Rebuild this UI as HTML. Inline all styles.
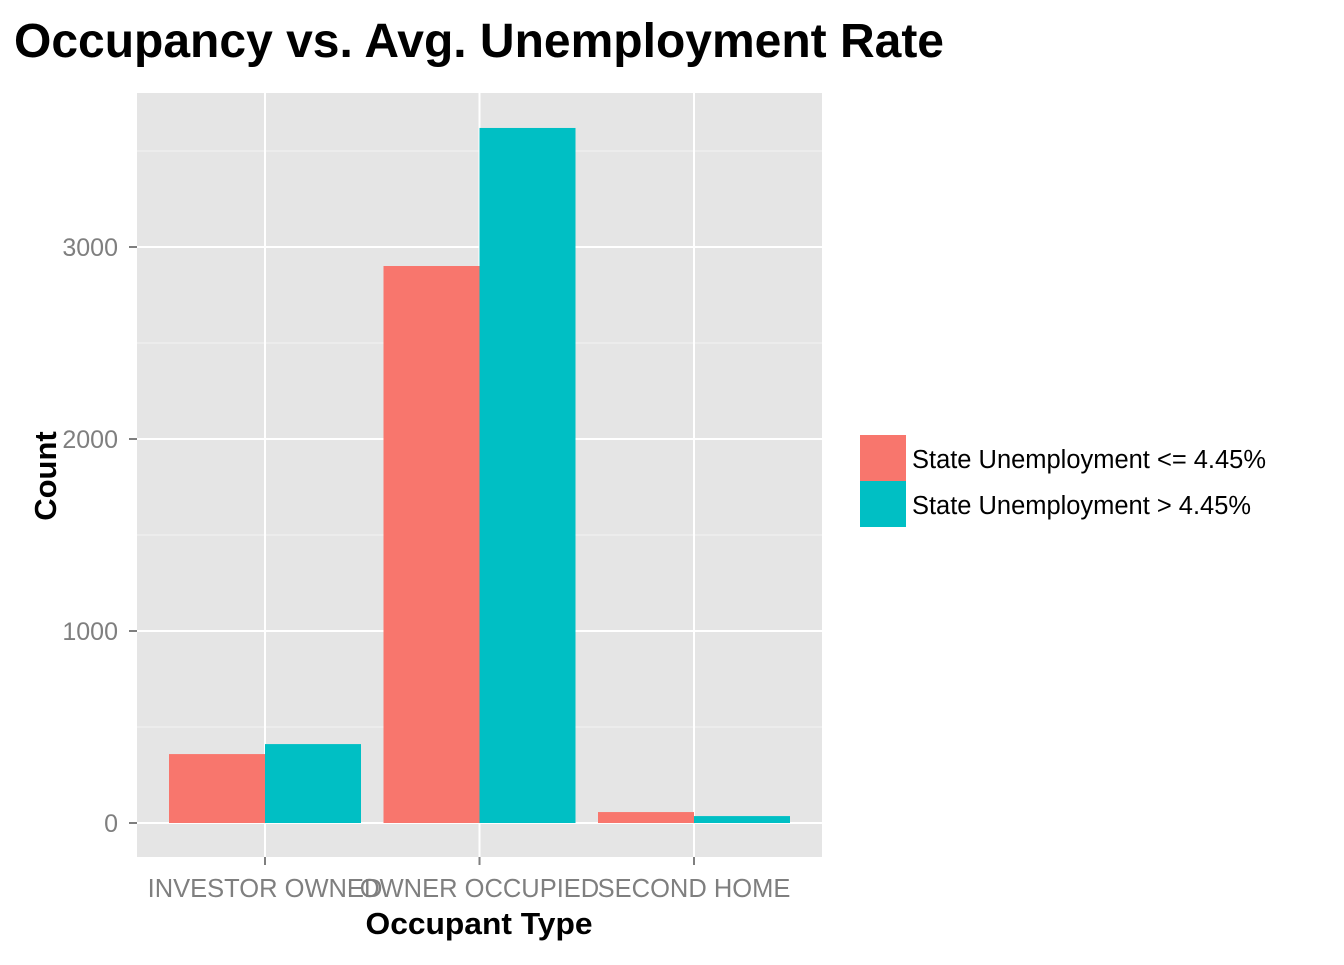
<!DOCTYPE html>
<html><head><meta charset="utf-8"><style>
body{margin:0;background:#fff;width:1344px;height:960px;overflow:hidden;font-family:"Liberation Sans",Arial,sans-serif;}
</style></head><body>
<svg width="1344" height="960">
<text x="14" y="57" font-size="48" font-weight="bold" fill="#000" textLength="930" lengthAdjust="spacingAndGlyphs">Occupancy vs. Avg. Unemployment Rate</text>
<g id="plot"></g>
<text x="479" y="934" font-size="31" font-weight="bold" text-anchor="middle" textLength="227" lengthAdjust="spacingAndGlyphs">Occupant Type</text>
<text transform="translate(56,476) rotate(-90)" font-size="31" font-weight="bold" text-anchor="middle">Count</text>
<g>
<rect x="860" y="435" width="46" height="46" fill="#F8766D"/>
<rect x="860" y="481" width="46" height="46" fill="#00BFC4"/>
<text x="912" y="468" font-size="25.5" textLength="354" lengthAdjust="spacingAndGlyphs">State Unemployment &lt;= 4.45%</text>
<text x="912" y="514" font-size="25.5" textLength="339" lengthAdjust="spacingAndGlyphs">State Unemployment &gt; 4.45%</text>
</g>
</svg>
<script>
const categories=["INVESTOR OWNED","OWNER OCCUPIED","SECOND HOME"];
const lowValues=[359,2901,57];
const highValues=[411,3620,36];
const yTicks=[0,1000,2000,3000];
const colors=["#F8766D","#00BFC4"];
const ns="http://www.w3.org/2000/svg";
const g=document.getElementById('plot');
const L=137,R=822,T=93,B=857;
const y=v=>823-v*0.192;
const step=214.5;
const xc=i=>265+step*i;
const bw=96;
function mk(t,a){const e=document.createElementNS(ns,t);for(const k in a)e.setAttribute(k,a[k]);g.appendChild(e);return e;}
let bg=mk('rect',{x:L,y:T,width:R-L,height:B-T,fill:'#E5E5E5'});


for(let i=0;i<yTicks.length-1;i++){const m=(yTicks[i]+yTicks[i+1])/2;mk('line',{x1:L,x2:R,y1:y(m),y2:y(m),stroke:'#F2F2F2','stroke-width':1});}
{const m=yTicks[yTicks.length-1]+500;if(y(m)>T)mk('line',{x1:L,x2:R,y1:y(m),y2:y(m),stroke:'#F2F2F2','stroke-width':1});}
yTicks.forEach(v=>{
const l=mk('line',{x1:L,x2:R,y1:y(v),y2:y(v),stroke:'#fff','stroke-width':2});


mk('line',{x1:L-8,x2:L,y1:y(v),y2:y(v),stroke:'#7F7F7F','stroke-width':2});
const t=mk('text',{x:L-19,y:y(v)+9,'font-size':25,fill:'#7F7F7F','text-anchor':'end'});t.textContent=v;


});
categories.forEach((c,i)=>{
mk('line',{x1:xc(i),x2:xc(i),y1:T,y2:B,stroke:'#fff','stroke-width':2});
mk('line',{x1:xc(i),x2:xc(i),y1:B,y2:B+8,stroke:'#7F7F7F','stroke-width':2});
const t=mk('text',{x:xc(i),y:897,'font-size':25.5,fill:'#7F7F7F','text-anchor':'middle'});t.textContent=c;


});
categories.forEach((c,i)=>{
[lowValues,highValues].forEach((vals,s)=>{
const x0=s===0?xc(i)-bw:xc(i);
const r=mk('rect',{x:x0,y:y(vals[i]),width:bw,height:y(0)-y(vals[i]),fill:colors[s]});


});
});
</script>
</body></html>
